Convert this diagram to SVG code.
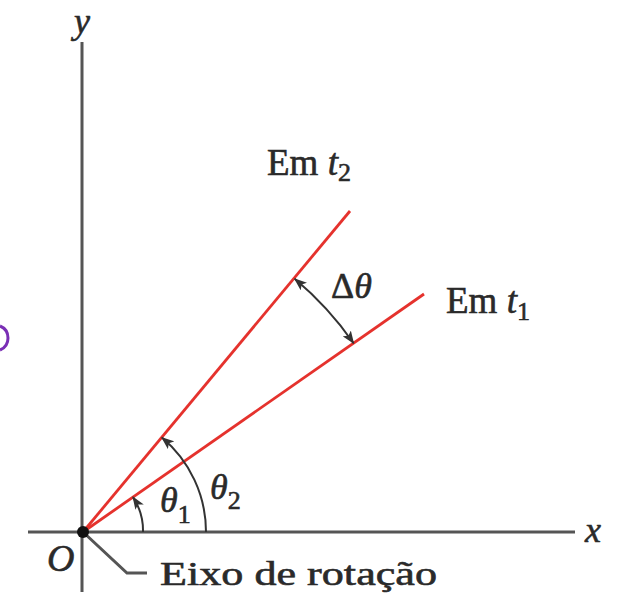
<svg xmlns="http://www.w3.org/2000/svg" width="626" height="599" viewBox="0 0 626 599">
<style>
.axis{stroke:#555;stroke-width:3;fill:none}
.ray{stroke:#e5322d;stroke-width:2.8;fill:none}
.arc{stroke:#333;stroke-width:2;fill:none}
.lbl{font-family:"Liberation Serif","DejaVu Serif",serif;fill:#2a2a2a;stroke:#2a2a2a;stroke-width:0.6}
.it{font-style:italic}
</style>
<defs>
<marker id="ah" markerUnits="userSpaceOnUse" markerWidth="14" markerHeight="10" refX="12" refY="5" orient="auto-start-reverse">
<path d="M0,0 L13,5 L0,10 L3,5 Z" fill="#333"/>
</marker>
</defs>
<rect width="626" height="599" fill="#fff"/>
<g id="axes">
<line class="axis" x1="82" y1="42" x2="82" y2="592"/>
<line class="axis" x1="28" y1="532" x2="575" y2="532"/>
<text class="lbl it" x="74" y="33" font-size="36">y</text>
<text class="lbl it" x="585" y="542" font-size="36">x</text>
</g>
<g id="connectors">
<line class="ray" x1="83" y1="532" x2="350" y2="211"/>
<line class="ray" x1="83" y1="532" x2="424" y2="294"/>
<path class="arc" d="M143,532 A61,61 0 0 0 133,497.1" marker-end="url(#ah)"/>
<path class="arc" d="M206,532 A123,123 0 0 0 161.9,437.6" marker-end="url(#ah)"/>
<path class="arc" d="M353.6,343.2 A330,330 0 0 0 294.7,278.8" marker-start="url(#ah)" marker-end="url(#ah)"/>
<polyline class="axis" stroke-width="2.5" points="83,532 127,573 147,573"/>
</g>
<g id="origin">
<circle cx="83" cy="532" r="6" fill="#111"/>
<text class="lbl it" x="47" y="571" font-size="38">O</text>
<text class="lbl" x="160" y="585" font-size="34" textLength="277" lengthAdjust="spacingAndGlyphs">Eixo de rotação</text>
</g>
<g id="label-t2">
<text class="lbl" x="267" y="175" font-size="37">Em <tspan class="it">t</tspan><tspan font-size="26" dy="6">2</tspan></text>
</g>
<g id="label-t1">
<text class="lbl" x="446" y="313" font-size="37">Em <tspan class="it">t</tspan><tspan font-size="26" dy="7">1</tspan></text>
</g>
<g id="label-dtheta">
<text class="lbl" x="331" y="298" font-size="36">Δ<tspan class="it">θ</tspan></text>
</g>
<g id="label-theta1">
<text class="lbl" x="160" y="512" font-size="36"><tspan class="it">θ</tspan><tspan font-size="26" dy="11">1</tspan></text>
</g>
<g id="label-theta2">
<text class="lbl" x="210" y="499" font-size="36"><tspan class="it">θ</tspan><tspan font-size="26" dy="10">2</tspan></text>
</g>
<g id="purple-mark">
<path d="M0,326 A13,13 0 0 1 0,350" stroke="#7a2fb5" stroke-width="3" fill="none"/>
</g>
</svg>
